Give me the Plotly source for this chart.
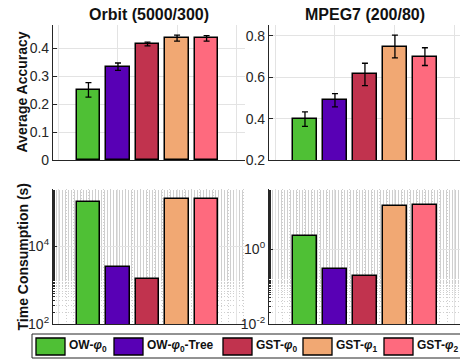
import plotly.graph_objects as go

# ---------------- data ----------------
methods = ["OW-φ0", "OW-φ0-Tree", "GST-φ0", "GST-φ1", "GST-φ2"]
legend_labels = [
    "<b>OW-<i>φ</i><sub>0</sub></b>",
    "<b>OW-<i>φ</i><sub>0</sub>-Tree</b>",
    "<b>GST-<i>φ</i><sub>0</sub></b>",
    "<b>GST-<i>φ</i><sub>1</sub></b>",
    "<b>GST-<i>φ</i><sub>2</sub></b>",
]
colors = ["#4FC035", "#5800B5", "#C1334E", "#F1A873", "#FE6A7E"]
positions = [1, 2, 3, 4, 5]

orbit_acc = [0.251, 0.334, 0.415, 0.436, 0.435]
orbit_err = [0.026, 0.013, 0.007, 0.011, 0.010]
mpeg_acc = [0.398, 0.489, 0.614, 0.749, 0.700]
mpeg_err = [0.035, 0.032, 0.054, 0.055, 0.043]
orbit_time = [1.37e5, 3.0e3, 1.46e3, 1.68e5, 1.68e5]
mpeg_time = [2.27, 0.29, 0.19, 13.9, 15.4]

titles = ["Orbit (5000/300)", "MPEG7 (200/80)"]
ytitles = ["Average Accuracy", "Time Consumption (s)"]

# ---------------- layout helpers ----------------
W, H = 460, 360
def px(x):
    return x / W
def py(y):
    return 1 - y / H

FONT = "Liberation Sans, Arial, Helvetica, sans-serif"
AX = "#262626"
GRID = "#E3E3E3"
MINOR = "#CFCFCF"
DOT = "1px,2px"

fig = go.Figure()

panels = [
    ("x", "y", orbit_acc, orbit_err),
    ("x2", "y2", mpeg_acc, mpeg_err),
    ("x3", "y3", orbit_time, None),
    ("x4", "y4", mpeg_time, None),
]
for xa, ya, vals, err in panels:
    kw = {}
    if err is not None:
        kw["error_y"] = dict(type="data", array=err, color="black", thickness=1.3, width=3)
    fig.add_trace(go.Bar(
        x=positions, y=vals, xaxis=xa, yaxis=ya, width=0.8,
        marker=dict(color=colors, line=dict(color="black", width=1.5)),
        showlegend=False, hoverinfo="y", **kw))

xdom_l = [px(53), px(245)]
xdom_r = [px(269), px(460)]
ydom_t = [py(160), py(25)]
ydom_b = [py(324), py(189)]

def xaxis(dom, rng, anchor, log_minor):
    return dict(domain=dom, range=rng, anchor=anchor, showticklabels=False,
                automargin=False,
                tickvals=[0, 2, 4, 6], ticks="inside", ticklen=0,
                showgrid=True, gridcolor=GRID, gridwidth=1,
                showline=True, linecolor=AX, linewidth=1.2, zeroline=False,
                minor=dict(showgrid=log_minor, dtick=0.25, griddash=DOT,
                           gridcolor=MINOR, ticks=""))

def yaxis_lin(dom, rng, anchor, tv, tt):
    return dict(domain=dom, range=rng, anchor=anchor, tickvals=tv, ticktext=tt,
                automargin=False,
                ticks="inside", ticklen=4, tickcolor=AX, tickwidth=1,
                showgrid=True, gridcolor=GRID, showline=True, linecolor=AX,
                linewidth=1.2, zeroline=False,
                tickfont=dict(family=FONT, size=14, color=AX))

def yaxis_log(dom, rng, anchor, tv, tt):
    d = yaxis_lin(dom, rng, anchor, tv, tt)
    d["type"] = "log"
    d["minor"] = dict(showgrid=True, griddash=DOT, gridcolor=MINOR,
                      ticks="inside", ticklen=2, tickcolor=AX)
    return d

fig.update_layout(
    width=W, height=H, margin=dict(l=0, r=0, t=0, b=0, pad=0, autoexpand=False),
    paper_bgcolor="white", plot_bgcolor="white",
    font=dict(family=FONT, color=AX),
    bargap=0,
    xaxis=xaxis(xdom_l, [-0.2, 6.3], "y", False),
    xaxis2=xaxis(xdom_r, [-0.2, 6.17], "y2", False),
    xaxis3=xaxis(xdom_l, [-0.2, 6.3], "y3", True),
    xaxis4=xaxis(xdom_r, [-0.2, 6.17], "y4", True),
    yaxis=yaxis_lin(ydom_t, [0, 0.483], "x", [0, 0.1, 0.2, 0.3, 0.4],
                    ["0", "0.1", "0.2", "0.3", "0.4"]),
    yaxis2=yaxis_lin(ydom_t, [0.2, 0.853], "x2", [0.2, 0.4, 0.6, 0.8],
                     ["0.2", "0.4", "0.6", "0.8"]),
    yaxis3=yaxis_log(ydom_b, [2, 5.48], "x3", [1e2, 1e4],
                     ["10<sup>2</sup>", "10<sup>4</sup>"]),
    yaxis4=yaxis_log(ydom_b, [-2, 1.61], "x4", [1e-2, 1e0],
                     ["10<sup>-2</sup>", "10<sup>0</sup>"]),
)

# panel titles
for t, dom in zip(titles, [xdom_l, xdom_r]):
    fig.add_annotation(text=f"<b>{t}</b>", xref="paper", yref="paper",
                       x=(dom[0] + dom[1]) / 2, y=py(15), showarrow=False,
                       font=dict(family=FONT, size=16, color="#111"),
                       xanchor="center", yanchor="middle")

# y-axis titles
for t, dom in zip(ytitles, [ydom_t, ydom_b]):
    fig.add_annotation(text=f"<b>{t}</b>", xref="paper", yref="paper",
                       x=px(22), y=(dom[0] + dom[1]) / 2, showarrow=False,
                       textangle=-90, xanchor="center", yanchor="middle",
                       font=dict(family=FONT, size=14, color="#111"))

# custom legend (wide swatches as in the original)
shapes = [dict(type="rect", xref="paper", yref="paper",
               x0=px(32), x1=px(462), y0=py(358), y1=py(334),
               line=dict(color=AX, width=1), fillcolor="white", layer="above")]
sw_left = [36, 114, 223, 303, 384]
for lab, col, x0 in zip(legend_labels, colors, sw_left):
    shapes.append(dict(type="rect", xref="paper", yref="paper",
                       x0=px(x0), x1=px(x0 + 29), y0=py(355), y1=py(338),
                       line=dict(color="black", width=1.3), fillcolor=col, layer="above"))
    fig.add_annotation(text=lab, xref="paper", yref="paper", x=px(x0 + 31),
                       y=py(346), showarrow=False, xanchor="left", yanchor="middle",
                       font=dict(family=FONT, size=12, color="#111"))
fig.update_layout(shapes=shapes)

fig.write_html(
    "out.html",
    config={"displayModeBar": False},
    post_script=("document.documentElement.style.margin='0';"
                 "document.body.style.margin='0';document.body.style.padding='0';"
                 "document.documentElement.style.overflow='hidden';"
                 "document.body.style.overflow='hidden';"),
)
